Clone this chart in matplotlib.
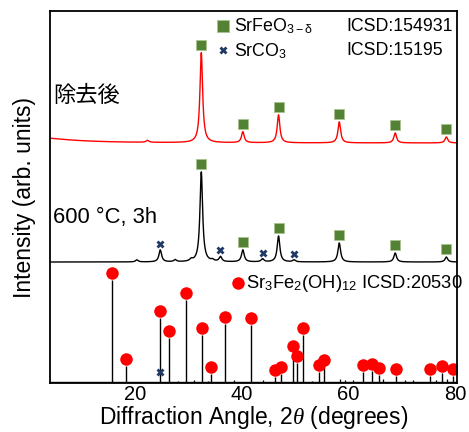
import numpy as np
import matplotlib
matplotlib.use("Agg")
from matplotlib import pyplot as plt

plt.rcParams["font.family"] = ["Liberation Sans", "Noto Sans CJK JP", "DejaVu Sans"]
plt.rcParams["mathtext.fontset"] = "custom"
plt.rcParams["mathtext.rm"] = "Liberation Sans"
plt.rcParams["mathtext.it"] = "Liberation Serif:italic"

# peak lists (x: 2theta, y: intensity in arbitrary units)
red_base = 240
red_pos = [22.3, 32.4, 40.2, 46.9, 58.3, 68.8, 78.4]
red_height = [2, 90, 11, 28, 21, 10, 6]
red_bg_pos = [0.0]
red_bg_height = [6]

black_base = 121
black_pos = [20.3, 24.7, 27.5, 30.5, 32.4, 34.5, 36.0, 40.2, 43.9, 46.9, 49.8, 58.3, 68.8, 78.4]
black_height = [2, 12, 2, 2, 90, 1.5, 5, 12, 3, 26, 2, 19, 9, 5]

srfeo3_pos = [32.4, 40.2, 46.9, 58.3, 68.8, 78.4]
srco3_pos = [24.7, 36.0, 43.9, 49.8]

stick_base = 1
stick_pos = [15.7, 18.3, 24.7, 26.3, 29.5, 32.6, 34.2, 36.8, 41.8, 46.2, 47.3,
             49.6, 50.4, 51.5, 54.5, 55.4, 62.8, 64.5, 65.7, 69.0, 75.3, 77.6, 79.6]
stick_height = [102, 16, 64, 44, 82, 47, 8, 58, 57, 5, 8,
                29, 19, 47, 10, 15, 10, 11, 7, 6, 6, 9, 6]
minor_stick_pos = [28.0, 31.0, 33.6, 38.5, 44.0, 53.2, 58.4, 59.3, 60.8, 66.5, 70.6, 72.1, 76.5, 78.5]
minor_stick_height = [1.5, 2, 1.5, 2, 2, 1.5, 3, 2, 2, 3, 2, 2, 2, 3]
srco3_ref_pos = [24.7]
srco3_ref_y = [11]

x = np.linspace(4, 80.4, 3000)


def profile(pos, height, base, hw=0.3):
    y = np.full_like(x, base, dtype=float)
    for p, h in zip(pos, height):
        y += h / (1 + ((x - p) / hw) ** 2)
    return y


red_y = profile(red_pos, red_height, red_base) + profile(red_bg_pos, red_bg_height, 0, hw=8)
black_y = profile(black_pos, black_height, black_base)

green = "#548235"
navy = "#203864"

fig = plt.figure(figsize=(4.69, 4.32), dpi=100)
ax = fig.add_axes([0.1066, 0.1134, 0.8678, 0.8611])

ax.plot(x, red_y, color="#ff0000", lw=1.0)
ax.plot(x, black_y, color="k", lw=1.0)

# stick pattern
ax.axhline(stick_base, color="k", lw=1.0)
ax.vlines(stick_pos, stick_base, np.array(stick_height) + stick_base, color="k", lw=1.0)
ax.vlines(minor_stick_pos, stick_base, np.array(minor_stick_height) + stick_base, color="k", lw=0.9)
ax.plot(stick_pos, np.array(stick_height) + stick_base + 7, "o", color="#ff0000", ms=9, mec="none")
ax.plot(srco3_ref_pos, srco3_ref_y, "X", color=navy, ms=6, mec="none")

# phase markers on the measured patterns
ax.plot(srfeo3_pos, np.interp(srfeo3_pos, x, red_y) + 8, "s", color=green, ms=7, mec="#a9c48f", mew=0.6)
ax.plot(srfeo3_pos, np.interp(srfeo3_pos, x, black_y) + 8, "s", color=green, ms=7, mec="#a9c48f", mew=0.6)
ax.plot(srco3_pos, np.interp(srco3_pos, x, black_y) + 6, "X", color=navy, ms=6, mec="none")

# legend-like annotations
ax.plot([0.425], [0.960], "s", color=green, ms=8, mec="#a9c48f", mew=0.6, transform=ax.transAxes, clip_on=False)
ax.plot([0.425], [0.895], "X", color=navy, ms=6, mec="none", transform=ax.transAxes, clip_on=False)
ax.text(0.452, 0.958, r"SrFeO$_{\mathrm{3-\delta}}$", transform=ax.transAxes, va="center", fontsize=12.8)
ax.text(0.452, 0.893, r"SrCO$_{3}$", transform=ax.transAxes, va="center", fontsize=12.8)
ax.text(0.728, 0.958, "ICSD:154931", transform=ax.transAxes, va="center", fontsize=12.8)
ax.text(0.728, 0.893, "ICSD:15195", transform=ax.transAxes, va="center", fontsize=12.8)
ax.plot([0.462], [0.269], "o", color="#ff0000", ms=9, mec="none", transform=ax.transAxes)
ax.text(0.482, 0.267, r"Sr$_{3}$Fe$_{2}$(OH)$_{12}$ ICSD:20530", transform=ax.transAxes, va="center", fontsize=13.2)

ax.text(0.007, 0.774, "除去後", transform=ax.transAxes, va="center", fontsize=16,
        family=["Noto Sans CJK JP"])
ax.text(0.007, 0.444, "600 °C, 3h", transform=ax.transAxes, va="center", fontsize=15.8)

ax.set_xlim(4, 80.4)
ax.set_ylim(0, 372)
ax.set_xticks([20, 40, 60, 80])
ax.set_yticks([])
ax.tick_params(axis="x", length=0, labelsize=14.5, pad=1.5)
for s in ax.spines.values():
    s.set_linewidth(1.3)
ax.set_xlabel(r"Diffraction Angle, 2$\it{\theta}$ (degrees)", fontsize=16.5, labelpad=0)
ax.set_ylabel("Intensity (arb. units)", fontsize=16.5, labelpad=10)

fig.savefig("out.png", dpi=100)
